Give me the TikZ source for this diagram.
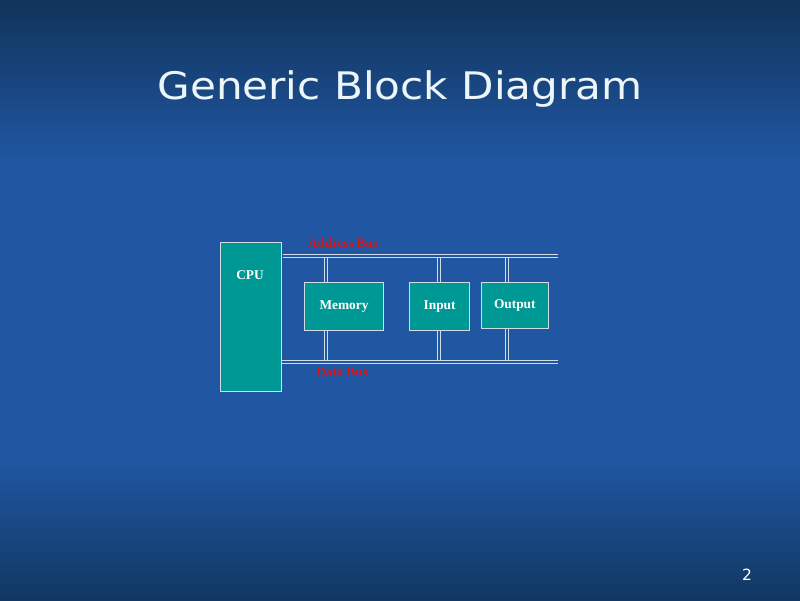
\documentclass[tikz,border=0pt]{standalone}
\usepackage{graphicx}
\usepackage{fontspec}
\setmainfont{Liberation Serif}
\newfontfamily\titlefont{DejaVu Sans}
\definecolor{bgtop}{RGB}{17,52,90}
\definecolor{bgmid}{RGB}{32,86,162}
\definecolor{bgbot}{RGB}{17,56,98}
\definecolor{blockfill}{RGB}{0,152,148}
\definecolor{buscol}{RGB}{210,220,230}
\definecolor{buslabel}{RGB}{215,20,25}
\definecolor{titlecol}{RGB}{235,245,250}
\tikzset{
    block/.style = {draw = buscol, line width = 0.6pt, fill = blockfill, text = white,
        font = \fontsize{9.5}{11}\selectfont\bfseries, inner sep = 0pt},
    blocktext/.style = {text = white, font = \fontsize{9.5}{11}\selectfont\bfseries},
    bus/.style = {draw = buscol, line width = 0.7pt, double = bgmid, double distance = 1.5pt},
    buslbl/.style = {text = buslabel, font = \fontsize{9.3}{11}\selectfont\bfseries},
    titletext/.style = {text = titlecol, font = \titlefont\fontsize{27}{32}\selectfont}
}

\begin{document}
\begin{tikzpicture}
    \fill[bgmid] (0, 0) rectangle (20, 15);
    \shade[top color = bgtop, bottom color = bgmid] (0, 11) rectangle (20, 15);
    \shade[top color = bgmid, bottom color = bgbot] (0, 0) rectangle (20, 3.5);
    \useasboundingbox (0, 0) rectangle (20, 15);

    \node[titletext, anchor = base] (title) at (10, 12.5) {\scalebox{1.11}[1]{Generic Block Diagram}};
    \node[text = white, font = \titlefont\fontsize{11}{13}\selectfont] (page) at (18.675, 0.625) {2};

    \node[block, minimum width = 1.54cm, minimum height = 3.74cm] (cpu) at (6.27, 7.08) {};
    \node[blocktext] (cpulabel) at (6.25, 8.125) {CPU};
    \node[block, minimum width = 1.98cm, minimum height = 1.21cm] (mem) at (8.6, 7.34) {Memory};
    \node[block, minimum width = 1.5cm, minimum height = 1.21cm] (in) at (10.99, 7.34) {Input};
    \node[block, minimum width = 1.69cm, minimum height = 1.16cm] (out) at (12.87, 7.37) {Output};

    \coordinate (abusL) at (7.075, 8.59);
    \coordinate (abusR) at (13.95, 8.59);
    \coordinate (dbusL) at (7.05, 5.94);
    \coordinate (dbusR) at (13.95, 5.94);
    \coordinate (memA) at (8.16, 8.59);
    \coordinate (memD) at (8.16, 5.94);
    \coordinate (inA) at (10.97, 8.59);
    \coordinate (inD) at (10.97, 5.94);
    \coordinate (outA) at (12.675, 8.59);
    \coordinate (outD) at (12.675, 5.94);

    \draw[bus] (memA) -- (memA |- mem.north);
    \draw[bus] (memD) -- (memD |- mem.south);
    \draw[bus] (inA) -- (inA |- in.north);
    \draw[bus] (inD) -- (inD |- in.south);
    \draw[bus] (outA) -- (outA |- out.north);
    \draw[bus] (outD) -- (outD |- out.south);
    \draw[bus] (abusL) -- (abusR);
    \draw[bus] (dbusL) -- (dbusR);

    \node[buslbl] (alabel) at (8.575, 8.925) {Address Bus};
    \node[buslbl] (dlabel) at (8.55, 5.7) {Data Bus};
\end{tikzpicture}
\end{document}
